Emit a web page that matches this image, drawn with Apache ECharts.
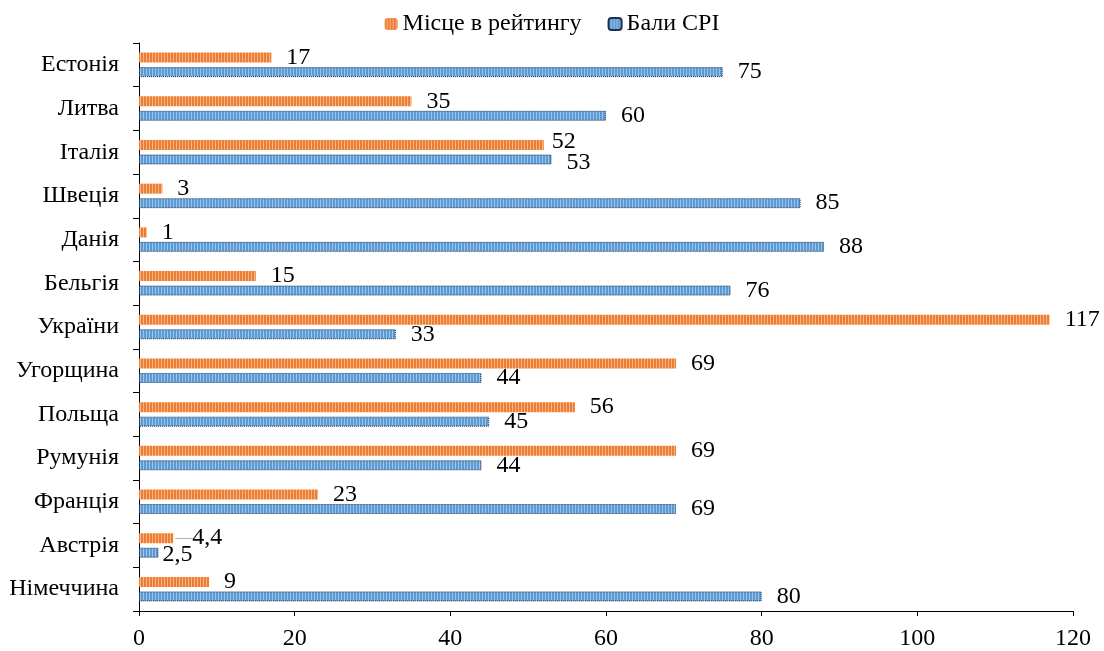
<!DOCTYPE html>
<html>
<head>
<meta charset="utf-8">
<script src="https://cdn.jsdelivr.net/npm/echarts@6/dist/echarts.min.js"></script>
<style>
html,body{margin:0;padding:0;background:#fff;}
#chart{width:1104px;height:651px;}
</style>
</head>
<body>
<div id="chart"></div>
<script>
var categories = ['Естонія','Литва','Італія','Швеція','Данія','Бельгія','України','Угорщина','Польща','Румунія','Франція','Австрія','Німеччина'];
var rankValues = [17,35,52,3,1,15,117,69,56,69,23,4.4,9];
var cpiValues = [75,60,53,85,88,76,33,44,45,44,69,2.5,80];
var seriesNames = ['Місце в рейтингу','Бали CPI'];
var xTicks = {min:0, max:120, interval:20};

function stripePattern(base, light){
  var c = document.createElement('canvas');
  c.width = 3; c.height = 4;
  var ctx = c.getContext('2d');
  ctx.fillStyle = base; ctx.fillRect(0,0,3,4);
  ctx.fillStyle = light; ctx.fillRect(2,0,1,4);
  return {image: c, repeat: 'repeat'};
}
var orangeFill = stripePattern('#ED7D31', '#F6B488');
var blueFill = stripePattern('#5B9BD5', '#9CC3E8');

var FONT = '"Liberation Serif","Times New Roman",serif';
var FS = 24;
function fmt(p){ return String(p.value).replace('.', ','); }

// label tweaks for crowded categories
var rankLabelTweaks = {
  2: {distance: 8, offset: [0,-3]},
  11: {distance: 2, offset: [0,-1], formatter: '{l|—}{v|4,4}', rich: {l:{color:'#A6A6A6', fontSize:17, fontFamily: FONT}, v:{color:'#000', fontSize:FS, fontFamily: FONT}}}
};
var cpiLabelTweaks = {
  2: {distance: 15, offset: [0,3]},
  11: {distance: 4, offset: [0,2]}
};
function buildData(vals, tweaks){
  return vals.map(function(v,i){
    var d = {value: v};
    if (tweaks[i]) d.label = tweaks[i];
    return d;
  });
}

var chart = echarts.init(document.getElementById('chart'), null, {renderer:'canvas'});
chart.setOption({
  animation: false,
  backgroundColor: '#fff',
  textStyle: {fontFamily: FONT},
  legend: {
    top: 7,
    left: 'center',
    itemWidth: 13,
    itemHeight: 12,
    itemGap: 26,
    textStyle: {fontSize: FS, color: '#000', fontFamily: FONT},
    data: seriesNames
  },
  grid: {left: 139, right: 31, top: 43, bottom: 39},
  xAxis: {
    type: 'value',
    min: xTicks.min, max: xTicks.max, interval: xTicks.interval,
    axisLine: {show: true, lineStyle: {color: '#000', width: 1}},
    axisTick: {show: true, length: 5, lineStyle: {color: '#000'}},
    splitLine: {show: false},
    axisLabel: {fontSize: FS, color: '#000', fontFamily: FONT, margin: 16}
  },
  yAxis: {
    type: 'category',
    inverse: true,
    data: categories,
    axisLine: {show: true, lineStyle: {color: '#000', width: 1}},
    axisTick: {show: true, length: 6, alignWithLabel: false, lineStyle: {color: '#000'}},
    axisLabel: {fontSize: FS, color: '#000', fontFamily: FONT, margin: 20}
  },
  series: [
    {
      name: seriesNames[0],
      type: 'bar',
      barWidth: 10,
      barGap: '45%',
      itemStyle: {color: orangeFill},
      label: {show: true, position: 'right', distance: 15, fontSize: FS, color: '#000', fontFamily: FONT, formatter: fmt},
      data: buildData(rankValues, rankLabelTweaks)
    },
    {
      name: seriesNames[1],
      type: 'bar',
      barWidth: 10,
      barGap: '45%',
      itemStyle: {color: blueFill, borderColor: '#1F2F4F', borderWidth: 1, borderType: 'dotted'},
      label: {show: true, position: 'right', distance: 15, fontSize: FS, color: '#000', fontFamily: FONT, formatter: fmt},
      data: buildData(cpiValues, cpiLabelTweaks)
    }
  ]
});
</script>
</body>
</html>
